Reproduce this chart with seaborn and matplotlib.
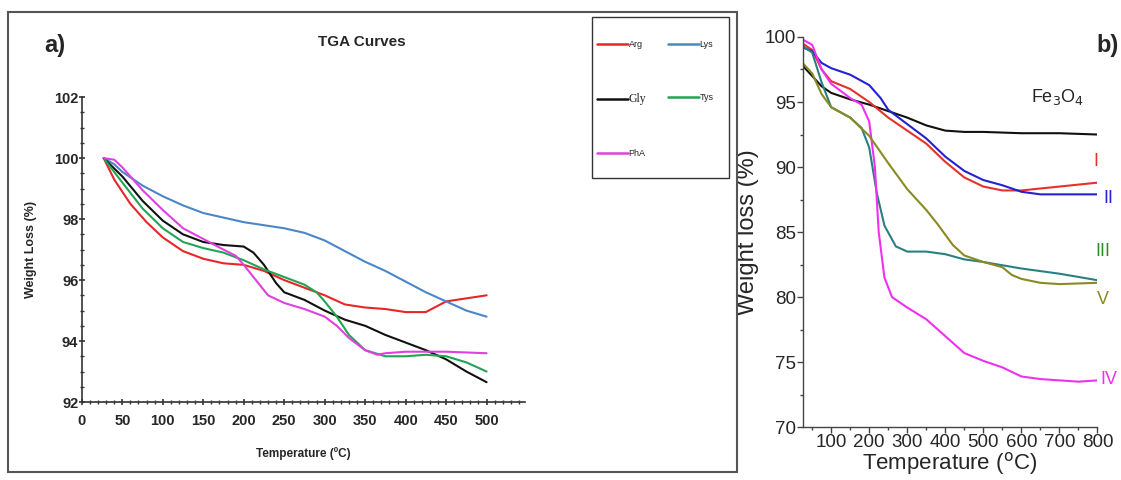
import numpy as np
import pandas as pd
import seaborn as sns
import matplotlib.pyplot as plt
from matplotlib.patches import Rectangle
from matplotlib.ticker import MultipleLocator

sns.set_style('white')
plt.rcParams['font.family'] = ['Liberation Sans', 'DejaVu Sans']

# --- panel a: amino acid coated samples ---
arg_t = [27, 40, 60, 80, 100, 125, 150, 175, 200, 225, 250, 275, 300, 325, 350, 375, 400, 425, 450, 475, 500]
arg_w = [100, 99.3, 98.5, 97.9, 97.4, 96.95, 96.7, 96.55, 96.5, 96.3, 96.0, 95.75, 95.5, 95.2, 95.1, 95.05, 94.95, 94.95, 95.3, 95.4, 95.5]
lys_t = [27, 40, 50, 75, 100, 125, 150, 175, 200, 225, 250, 275, 300, 325, 350, 375, 400, 425, 450, 475, 500]
lys_w = [100, 99.8, 99.55, 99.1, 98.75, 98.45, 98.2, 98.05, 97.9, 97.8, 97.7, 97.55, 97.3, 96.95, 96.6, 96.3, 95.95, 95.6, 95.3, 95.0, 94.8]
gly_t = [27, 50, 75, 100, 125, 150, 175, 200, 212, 225, 240, 250, 275, 300, 325, 350, 375, 400, 425, 450, 475, 500]
gly_w = [100, 99.4, 98.6, 97.95, 97.5, 97.25, 97.15, 97.1, 96.9, 96.5, 95.9, 95.6, 95.35, 95.0, 94.7, 94.5, 94.2, 93.95, 93.7, 93.4, 93.0, 92.65]
tys_t = [27, 50, 75, 100, 125, 150, 175, 200, 225, 250, 275, 290, 300, 315, 330, 350, 375, 400, 425, 450, 475, 500]
tys_w = [100, 99.2, 98.35, 97.7, 97.25, 97.05, 96.9, 96.65, 96.35, 96.1, 95.85, 95.6, 95.3, 94.8, 94.2, 93.7, 93.5, 93.5, 93.55, 93.5, 93.3, 93.0]
pha_t = [27, 40, 50, 75, 100, 125, 150, 175, 190, 200, 215, 230, 250, 275, 300, 315, 330, 350, 365, 375, 400, 450, 500]
pha_w = [100, 99.95, 99.7, 98.95, 98.3, 97.7, 97.35, 97.0, 96.8, 96.5, 96.0, 95.5, 95.25, 95.05, 94.8, 94.5, 94.1, 93.7, 93.55, 93.6, 93.65, 93.65, 93.6]

# --- panel b: Fe3O4 and samples I-V ---
fe_t = [25, 50, 75, 100, 150, 200, 250, 300, 350, 400, 450, 500, 600, 700, 800]
fe_w = [97.8, 97.0, 96.2, 95.7, 95.2, 94.8, 94.3, 93.8, 93.2, 92.8, 92.7, 92.7, 92.6, 92.6, 92.5]
s1_t = [25, 50, 75, 100, 150, 200, 250, 300, 350, 400, 450, 500, 550, 600, 700, 800]
s1_w = [99.5, 99.0, 97.5, 96.6, 96.0, 95.0, 93.8, 92.8, 91.8, 90.4, 89.2, 88.5, 88.2, 88.2, 88.5, 88.8]
s2_t = [25, 50, 75, 100, 150, 200, 230, 250, 300, 350, 400, 450, 500, 550, 600, 650, 700, 800]
s2_w = [99.2, 98.9, 98.0, 97.6, 97.1, 96.3, 95.3, 94.4, 93.3, 92.2, 90.8, 89.7, 89.0, 88.6, 88.1, 87.9, 87.9, 87.9]
s3_t = [25, 50, 75, 100, 150, 180, 200, 220, 240, 270, 300, 350, 400, 450, 500, 600, 700, 800]
s3_w = [99.3, 98.8, 96.5, 94.6, 93.8, 93.0, 91.5, 88.0, 85.5, 83.9, 83.5, 83.5, 83.3, 82.9, 82.7, 82.2, 81.8, 81.3]
s4_t = [25, 50, 75, 100, 150, 180, 200, 215, 225, 240, 260, 300, 350, 400, 450, 500, 550, 600, 650, 700, 750, 800]
s4_w = [99.8, 99.4, 97.5, 96.4, 95.3, 94.8, 93.5, 90.0, 85.0, 81.5, 80.0, 79.2, 78.3, 77.0, 75.7, 75.1, 74.6, 73.9, 73.7, 73.6, 73.5, 73.6]
s5_t = [25, 50, 75, 100, 150, 200, 250, 300, 350, 380, 420, 450, 500, 550, 575, 600, 650, 700, 800]
s5_w = [98.0, 97.2, 95.6, 94.6, 93.8, 92.4, 90.3, 88.3, 86.7, 85.6, 84.0, 83.2, 82.7, 82.3, 81.7, 81.4, 81.1, 81.0, 81.1]

df_a = pd.concat([
    pd.DataFrame({'T': arg_t, 'W': arg_w, 'name': 'Arg'}),
    pd.DataFrame({'T': lys_t, 'W': lys_w, 'name': 'Lys'}),
    pd.DataFrame({'T': gly_t, 'W': gly_w, 'name': 'Gly'}),
    pd.DataFrame({'T': tys_t, 'W': tys_w, 'name': 'Tys'}),
    pd.DataFrame({'T': pha_t, 'W': pha_w, 'name': 'PhA'}),
])
pal_a = {'Arg': '#e8262a', 'Lys': '#4a86c8', 'Gly': '#111111', 'Tys': '#22a455', 'PhA': '#e040e0'}

df_b = pd.concat([
    pd.DataFrame({'T': fe_t, 'W': fe_w, 'name': 'Fe3O4'}),
    pd.DataFrame({'T': s1_t, 'W': s1_w, 'name': 'I'}),
    pd.DataFrame({'T': s2_t, 'W': s2_w, 'name': 'II'}),
    pd.DataFrame({'T': s3_t, 'W': s3_w, 'name': 'III'}),
    pd.DataFrame({'T': s4_t, 'W': s4_w, 'name': 'IV'}),
    pd.DataFrame({'T': s5_t, 'W': s5_w, 'name': 'V'}),
])
pal_b = {'Fe3O4': '#111111', 'I': '#e8302a', 'II': '#2222d0', 'III': '#2a8080', 'IV': '#f030f0', 'V': '#8a8a25'}

W, H = 1121, 480
fig = plt.figure(figsize=(W / 100, H / 100), dpi=100)


def px_rect(x0, y0, x1, y1, **kw):
    # rectangle given in pixel coords (origin top-left)
    return Rectangle((x0 / W, 1 - y1 / H), (x1 - x0) / W, (y1 - y0) / H,
                     transform=fig.transFigure, fill=False, **kw)


# frame around panel a
fig.patches.append(px_rect(8, 12, 737, 472, edgecolor='#555555', linewidth=1.5))

ax = fig.add_axes([0.073, 0.1625, 0.395, 0.635])
sns.lineplot(data=df_a, x='T', y='W', hue='name', palette=pal_a, ax=ax,
             linewidth=1.5, sort=False, estimator=None, legend=False)
ax.set_xlim(0, 547)
ax.set_ylim(92, 102)
ax.xaxis.set_major_locator(MultipleLocator(50))
ax.xaxis.set_minor_locator(MultipleLocator(10))
ax.yaxis.set_major_locator(MultipleLocator(2))
ax.yaxis.set_minor_locator(MultipleLocator(0.5))
for s in ['top', 'right']:
    ax.spines[s].set_visible(False)
for s in ['left', 'bottom']:
    ax.spines[s].set_color('#333333')
    ax.spines[s].set_linewidth(1.2)
ax.tick_params(which='major', direction='inout', length=5, width=1.2, labelsize=10.5, color='#333333')
ax.tick_params(which='minor', direction='inout', length=3, width=1, color='#333333')
ax.tick_params(axis='x', which='both', bottom=True, pad=6)
ax.tick_params(axis='y', which='both', left=True, pad=0)
for lab in ax.get_xticklabels() + ax.get_yticklabels():
    lab.set_fontweight('bold')
ax.set_xlabel('Temperature (ºC)', fontsize=8.5, fontweight='bold', labelpad=14)
ax.set_ylabel('Weight Loss (%)', fontsize=9, fontweight='bold', labelpad=12)
fig.text(0.323, 0.912, 'TGA Curves', fontsize=11, fontweight='bold', ha='center', va='center')
fig.text(0.049, 0.905, 'a)', fontsize=17, fontweight='bold', ha='center', va='center')

# legend box (two columns: Arg/Gly/PhA, Lys/Tys)
fig.patches.append(px_rect(592, 17, 729, 178, edgecolor='#333333', linewidth=1.0))
order = ['Arg', 'Gly', 'PhA', 'Lys', 'Tys']
hl = [plt.Line2D([], [], color=pal_a[n], linewidth=1.8) for n in order]
leg = fig.legend(hl, order, loc='upper left', bbox_to_anchor=(597 / W, 1 - 40 / H), ncol=2,
                 fontsize=6.5, frameon=False, handlelength=3.4,
                 handletextpad=0.1, columnspacing=2.4, labelspacing=4.9,
                 borderpad=0, borderaxespad=0)
for t in leg.get_texts():
    if t.get_text() == 'Gly':
        t.set_family('Liberation Serif')
        t.set_fontsize(8.5)

# --- panel b ---
bx = fig.add_axes([0.716, 0.11, 0.263, 0.813])
sns.lineplot(data=df_b, x='T', y='W', hue='name', palette=pal_b, ax=bx,
             linewidth=1.5, sort=False, estimator=None, legend=False)
bx.set_xlim(25, 800)
bx.set_ylim(70, 100)
bx.xaxis.set_major_locator(MultipleLocator(100))
bx.xaxis.set_minor_locator(MultipleLocator(50))
bx.yaxis.set_major_locator(MultipleLocator(5))
bx.yaxis.set_minor_locator(MultipleLocator(2.5))
bx.set_xticks([100, 200, 300, 400, 500, 600, 700, 800])
for s in ['top', 'right']:
    bx.spines[s].set_visible(False)
for s in ['left', 'bottom']:
    bx.spines[s].set_color('#444444')
    bx.spines[s].set_linewidth(1.0)
bx.tick_params(which='major', direction='out', length=4, width=1, labelsize=13.5, color='#444444', pad=1)
bx.tick_params(which='minor', direction='out', length=2, width=1, color='#444444')
bx.tick_params(axis='x', which='both', bottom=True)
bx.tick_params(axis='y', which='both', left=True)
bx.set_xlabel('Temperature ($^{\\rm o}$C)', fontsize=16, labelpad=-1)
bx.set_ylabel('Weight loss (%)', fontsize=17, labelpad=4)

bx.text(694, 95.4, 'Fe$_3$O$_4$', fontsize=13, ha='center', va='center')
bx.text(796, 90.4, 'I', color='#e8302a', fontsize=13, ha='center', va='center', clip_on=False)
bx.text(829, 87.6, 'II', color='#2222d0', fontsize=13, ha='center', va='center', clip_on=False)
bx.text(813, 83.5, 'III', color='#2e8b2e', fontsize=13, ha='center', va='center', clip_on=False)
bx.text(815, 79.8, 'V', color='#8a8a25', fontsize=13, ha='center', va='center', clip_on=False)
bx.text(829, 73.7, 'IV', color='#f030f0', fontsize=13, ha='center', va='center', clip_on=False)
fig.text(0.988, 0.905, 'b)', fontsize=17, fontweight='bold', ha='center', va='center')

fig.savefig('out.png', dpi=100)
